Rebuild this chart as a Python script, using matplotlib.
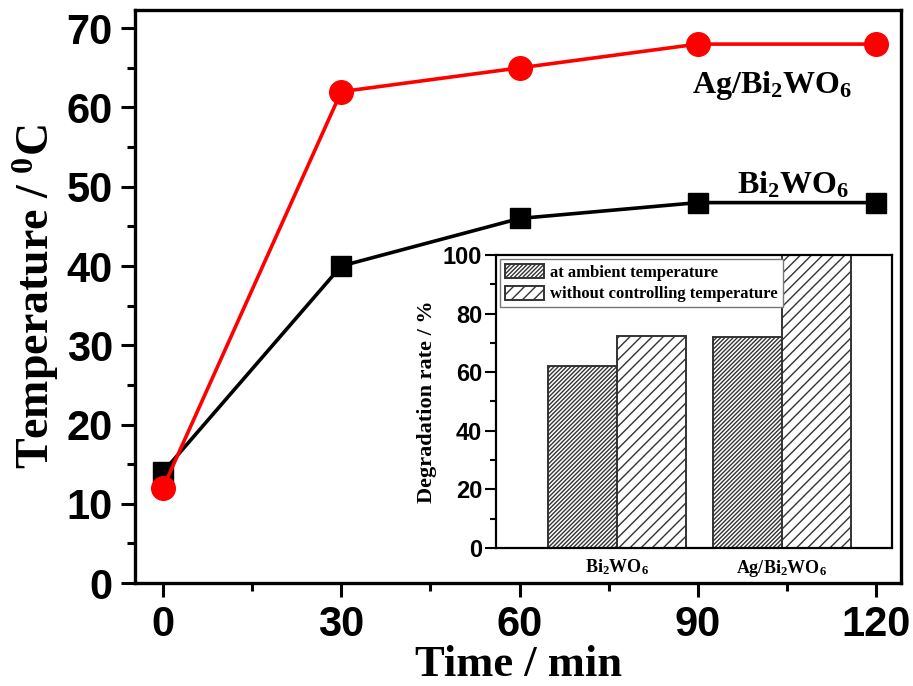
import numpy as np
import matplotlib
matplotlib.use('Agg')
import matplotlib.pyplot as plt
from matplotlib.ticker import MultipleLocator

plt.rcParams['mathtext.fontset'] = 'custom'
plt.rcParams['mathtext.rm'] = 'Liberation Serif:bold'
plt.rcParams['mathtext.default'] = 'rm'
plt.rcParams['hatch.linewidth'] = 1.0

# main plot data
time_min = [0, 30, 60, 90, 120]
temp_bi2wo6 = [14, 40, 46, 48, 48]
temp_ag_bi2wo6 = [12, 62, 65, 68, 68]

# inset data
samples = [r'Bi$_2$WO$_6$', r'Ag/Bi$_2$WO$_6$']
rate_ambient = [62, 72]
rate_uncontrolled = [72.5, 100]
bar_labels = ['at ambient temperature', 'without controlling temperature']

sans = 'Liberation Sans'
serif = 'Liberation Serif'

fig = plt.figure(figsize=(9.13, 6.86), dpi=100)
ax = fig.add_axes([0.1479, 0.1501, 0.839, 0.8353])

ax.plot(time_min, temp_bi2wo6, color='black', lw=2.6, marker='s', ms=14,
        zorder=3)
ax.plot(time_min, temp_ag_bi2wo6, color='#ff0000', lw=2.6, marker='o', ms=17,
        zorder=4)

ax.text(102.5, 62.8, r'Ag/Bi$_2$WO$_6$', fontsize=23, ha='center',
        va='center', fontfamily=serif, fontweight='bold')
ax.text(106, 50.2, r'Bi$_2$WO$_6$', fontsize=23, ha='center', va='center',
        fontfamily=serif, fontweight='bold')

ax.set_xlim(-4.7, 124.2)
ax.set_ylim(0, 72.3)
ax.set_xticks([0, 30, 60, 90, 120])
ax.xaxis.set_minor_locator(MultipleLocator(15))
ax.set_yticks(np.arange(0, 71, 10))
ax.yaxis.set_minor_locator(MultipleLocator(5))
ax.tick_params(which='major', direction='out', length=10, width=2.2, pad=6)
ax.tick_params(which='minor', direction='out', length=6, width=2.2)
for lab in ax.get_xticklabels() + ax.get_yticklabels():
    lab.set_fontfamily(sans)
    lab.set_fontweight('bold')
    lab.set_fontsize(30)
for sp in ax.spines.values():
    sp.set_linewidth(2.4)

ax.set_xlabel('Time / min', fontfamily=serif, fontweight='bold', fontsize=32,
              labelpad=0)
ax.set_ylabel(r'Temperature / $^\mathrm{0}$C', fontfamily=serif,
              fontweight='bold', fontsize=33, labelpad=4)

# inset
ins = fig.add_axes([0.5433, 0.2012, 0.4337, 0.4271])
pos = np.arange(len(samples))
w = 0.418
ins.bar(pos - w / 2, rate_ambient, w, color='white', edgecolor='#333333',
        hatch='////////', lw=1.4, label=bar_labels[0])
ins.bar(pos + w / 2, rate_uncontrolled, w, color='white', edgecolor='#333333',
        hatch='///', lw=1.4, label=bar_labels[1])
ins.set_xlim(-0.733, 1.667)
ins.set_ylim(0, 100)
ins.set_xticks(pos)
ins.set_xticklabels(samples, fontsize=13, fontfamily=serif, fontweight='bold')
ins.tick_params(axis='x', length=0, pad=7)
ins.set_yticks(np.arange(0, 101, 20))
ins.yaxis.set_minor_locator(MultipleLocator(10))
ins.tick_params(axis='y', which='major', direction='out', length=8, width=1.5,
                pad=2)
ins.tick_params(axis='y', which='minor', direction='out', length=4, width=1.5)
for lab in ins.get_yticklabels():
    lab.set_fontfamily(sans)
    lab.set_fontweight('bold')
    lab.set_fontsize(17)
for sp in ins.spines.values():
    sp.set_linewidth(1.6)
ins.set_ylabel('Degradation rate / %', fontfamily=serif, fontweight='bold',
               fontsize=16, labelpad=4)
leg = ins.legend(loc='upper left', prop={'family': serif, 'weight': 'bold',
                                         'size': 12},
                 fancybox=False, edgecolor='#777777', framealpha=1,
                 borderaxespad=0.25, handlelength=2.3, handleheight=0.9,
                 handletextpad=0.4, borderpad=0.3, labelspacing=0.3)
leg.get_frame().set_linewidth(1.0)

fig.savefig('out.png', dpi=100, facecolor='white')
